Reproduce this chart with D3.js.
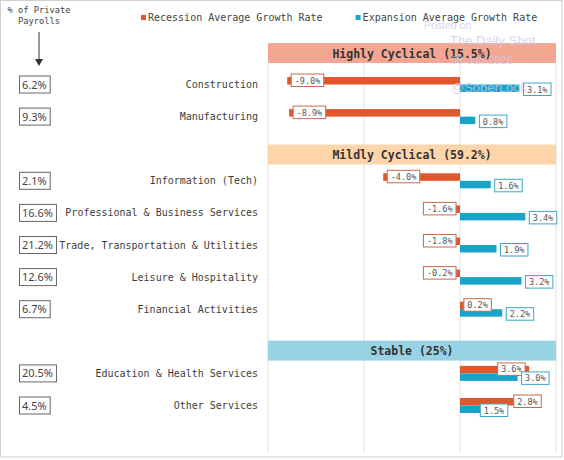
<!DOCTYPE html>
<html>
<head>
<meta charset="utf-8">
<script src="https://cdn.jsdelivr.net/npm/d3@7"></script>
<style>
  html, body { margin: 0; padding: 0; background: #fff; }
  svg { display: block; }
  .mono { font-family: "DejaVu Sans Mono", "Liberation Mono", monospace; }
</style>
</head>
<body>
<div id="chart"></div>
<script>
// ---- data ----
var groups = ["Highly Cyclical (15.5%)", "Mildly Cyclical (59.2%)", "Stable (25%)"];
var groupColors = ["#f3a792", "#fdd5aa", "#98d3e5"];

var sectors = [
  "Construction", "Manufacturing",
  "Information (Tech)", "Professional & Business Services",
  "Trade, Transportation & Utilities", "Leisure & Hospitality", "Financial Activities",
  "Education & Health Services", "Other Services"
];
var sectorGroup = [0, 0, 1, 1, 1, 1, 1, 2, 2];
var payrollShare = ["6.2%", "9.3%", "2.1%", "16.6%", "21.2%", "12.6%", "6.7%", "20.5%", "4.5%"];
var recession = [-9.0, -8.9, -4.0, -1.6, -1.8, -0.2, 0.2, 3.6, 2.8];
var expansion = [3.1, 0.8, 1.6, 3.4, 1.9, 3.2, 2.2, 3.0, 1.5];
var gridTicks = [-10, -5, 0, 5];

var recColor = "#e1572b", expColor = "#19a3c8";

// ---- layout ----
var W = 564, H = 460;
// vertical slots: group header bands sit a bit below their nominal slot
var rowSlot = [1, 2, 4, 5, 6, 7, 8, 10, 11];
var bandSlot = [0.02, 3.18, 9.29];

var svg = d3.select("#chart").append("svg").attr("width", W).attr("height", H);

// frame
svg.append("rect").attr("x", 0.5).attr("y", 0.5).attr("width", 561.5).attr("height", 456.5)
  .attr("fill", "#fff").attr("stroke", "#cfcfcf");

var x = d3.scaleLinear().domain([-10, 5]).range([268, 556]);
var y = d3.scaleLinear().domain([1, 11]).range([84.5, 405.5]);

// gridlines
svg.append("g").selectAll("line").data(gridTicks).join("line")
  .attr("x1", function(d) { return x(d); }).attr("x2", function(d) { return x(d); })
  .attr("y1", 63).attr("y2", 453)
  .attr("stroke", "#e6e6e6").attr("stroke-width", 1.2);

// group bands
var bands = svg.append("g").selectAll("g").data(groups).join("g")
  .attr("transform", function(d, i) { return "translate(0," + y(bandSlot[i]) + ")"; });
bands.append("rect")
  .attr("x", x(-10)).attr("width", x(5) - x(-10))
  .attr("y", -10).attr("height", 20)
  .attr("fill", function(d, i) { return groupColors[i]; });
bands.append("text").attr("class", "mono")
  .attr("x", (x(-10) + x(5)) / 2).attr("y", 4.5)
  .attr("text-anchor", "middle")
  .attr("font-size", 11.5).attr("font-weight", "bold").attr("fill", "#333")
  .text(function(d) { return d; });

// header on the left
var hdr = svg.append("g").attr("class", "mono").attr("font-size", 8.7).attr("fill", "#444")
  .attr("text-anchor", "middle");
hdr.append("text").attr("x", 39).attr("y", 13).text("% of Private");
hdr.append("text").attr("x", 39).attr("y", 24).text("Payrolls");
svg.append("line").attr("x1", 39).attr("x2", 39).attr("y1", 32).attr("y2", 60)
  .attr("stroke", "#333").attr("stroke-width", 1);
svg.append("path").attr("d", "M35,59 L43,59 L39,66 Z").attr("fill", "#333");

// legend
var legend = svg.append("g").attr("class", "mono").attr("font-size", 10).attr("fill", "#444");
var legItems = [["Recession Average Growth Rate", recColor], ["Expansion Average Growth Rate", expColor]];
var lx = 141;
legItems.forEach(function(it) {
  legend.append("rect").attr("x", lx).attr("y", 15).attr("width", 5).attr("height", 5).attr("fill", it[1]);
  var t = legend.append("text").attr("x", lx + 7).attr("y", 21).text(it[0]);
  lx = lx + 7 + t.node().getComputedTextLength() + 33;
});

// rows
var rows = svg.append("g").selectAll("g").data(sectors).join("g")
  .attr("transform", function(d, i) { return "translate(0," + y(rowSlot[i]) + ")"; });

// category names
rows.append("text").attr("class", "mono")
  .attr("x", 258).attr("y", 3.5).attr("text-anchor", "end")
  .attr("font-size", 10).attr("fill", "#3d3d3d")
  .text(function(d) { return d; });

// payroll share boxes
rows.each(function(d, i) {
  var g = d3.select(this);
  var t = g.append("text")
    .attr("x", 22).attr("y", 4)
    .attr("font-family", "'Noto Sans', 'Open Sans', sans-serif")
    .attr("font-size", 11).attr("fill", "#444")
    .text(payrollShare[i]);
  var w = t.node().getComputedTextLength();
  g.insert("rect", "text")
    .attr("x", 19.5).attr("y", -8.5).attr("width", w + 6).attr("height", 17)
    .attr("fill", "#fff").attr("stroke", "#666").attr("stroke-width", 1);
});

// bars
rows.append("rect")
  .attr("x", function(d, i) { return Math.min(x(0), x(recession[i])); })
  .attr("width", function(d, i) { return Math.abs(x(recession[i]) - x(0)); })
  .attr("y", -7.5).attr("height", 7.5)
  .attr("fill", recColor);
rows.append("rect")
  .attr("x", function(d, i) { return Math.min(x(0), x(expansion[i])); })
  .attr("width", function(d, i) { return Math.abs(x(expansion[i]) - x(0)); })
  .attr("y", 0).attr("height", 7.5)
  .attr("fill", expColor);

// value labels
function fmt(v) { return v.toFixed(1) + "%"; }

rows.each(function(d, i) {
  var g = d3.select(this);
  var rv = recession[i], ev = expansion[i];
  var zero = x(0), recEnd = x(rv), expEnd = x(ev);

  var rg = g.append("g"), eg = g.append("g");
  var rt = rg.append("text").attr("class", "mono").attr("font-size", 8.5).attr("fill", "#555")
    .attr("y", -1).text(fmt(rv));
  var et = eg.append("text").attr("class", "mono").attr("font-size", 8.5).attr("fill", "#555")
    .attr("y", 8).text(fmt(ev));
  var wR = rt.node().getComputedTextLength() + 7;
  var wE = et.node().getComputedTextLength() + 7;

  var rl = rv < 0 ? Math.min(recEnd + 4, zero - 4 - wR) : recEnd;
  var el = expEnd + 4;
  if (rv > 0 && el < rl + wR && rl < el + wE) {
    if (rv > ev + 1) el = rl - 6 - wE;
    else rl = recEnd - 4 - wR;
  }

  rg.insert("rect", "text").attr("x", rl).attr("y", -10.5).attr("width", wR).attr("height", 12.5)
    .attr("fill", "#fff").attr("stroke", "#c76a4c").attr("stroke-width", 1);
  rt.attr("x", rl + 3.5);
  eg.insert("rect", "text").attr("x", el).attr("y", -1.5).attr("width", wE).attr("height", 12.5)
    .attr("fill", "#fff").attr("stroke", "#3aa7c5").attr("stroke-width", 1);
  et.attr("x", el + 3.5);
});

// watermark
var wm = svg.append("g").attr("font-family", "'Liberation Sans', Arial, sans-serif")
  .attr("fill", "#cdc7ec").attr("opacity", 0.75);
wm.append("text").attr("x", 424).attr("y", 29).attr("font-size", 10.5).text("Posted on");
wm.append("text").attr("x", 450).attr("y", 45).attr("font-size", 13).text("The Daily Shot");
wm.append("text").attr("x", 451).attr("y", 64).attr("font-size", 11).text("09-Jan-2026");
wm.append("text").attr("x", 451).attr("y", 92).attr("font-size", 13).text("@SoberLook");
</script>
</body>
</html>
